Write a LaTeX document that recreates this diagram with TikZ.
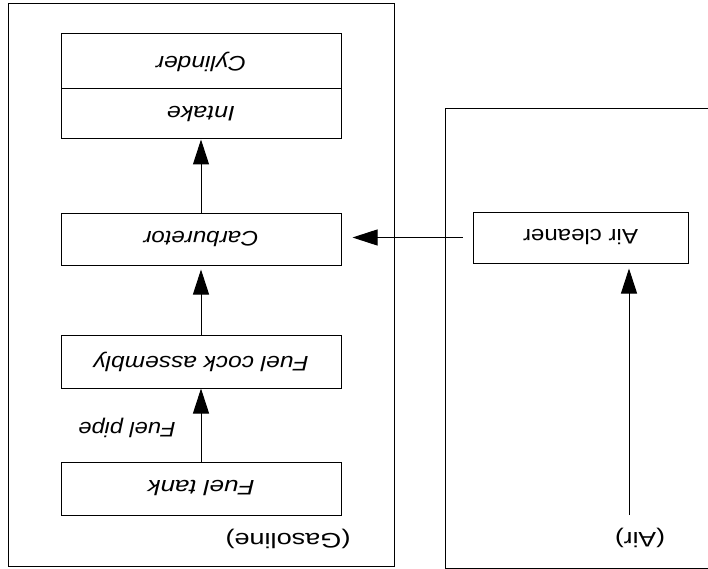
\documentclass[tikz,border=0pt]{standalone}
\usepackage{fontspec}
\setmainfont{Liberation Sans}
\usetikzlibrary{arrows.meta}
\newcommand{\flip}[2]{\rotatebox{180}{\resizebox{#1}{\height}{#2}}}
\begin{document}
\begin{tikzpicture}[x=1pt,y=-1pt,
  box/.style={draw,line width=1pt,inner sep=0pt,minimum width=280pt,minimum height=52pt,
    font=\fontsize{21}{25}\selectfont},
  lbl/.style={inner sep=0pt,font=\fontsize{21}{25}\selectfont},
  arr/.style={line width=1pt,-{Triangle[length=25pt,width=16pt]}}]
\useasboundingbox (0,0) rectangle (708,569);
% outer frames
\draw[line width=1pt] (8,4) rectangle (394,566);
\draw[line width=1pt] (712,109) -- (445,109) -- (445,568) -- (712,568);
% boxes
\node[box,minimum height=55pt] (cyl) at (201,61.5) {\flip{90pt}{\itshape Cylinder}};
\node[box,minimum height=50pt] (intake) at (201,114) {\flip{68pt}{\itshape Intake}};
\node[box] (carb) at (201,239) {\flip{115pt}{\itshape Carburetor}};
\node[box,minimum height=53pt] (cock) at (201,361.5) {\flip{215pt}{\itshape Fuel cock assembly}};
\node[box,minimum height=53pt] (tank) at (201,488.5) {\flip{107pt}{\itshape Fuel tank}};
\node[box,minimum width=215pt,minimum height=51pt] (aircl) at (580.5,237.5) {\flip{115pt}{Air cleaner}};
% labels
\node[lbl] (pipe) at (127,428) {\flip{97pt}{\itshape Fuel pipe}};
\node[lbl] (gas) at (288,539) {\flip{125pt}{(Gasoline)}};
\node[lbl] (air) at (640,538) {\flip{50pt}{(Air)}};
\coordinate (airsrc) at (629,515);
% connectors
\draw[arr] (tank.north) -- (cock.south);
\draw[arr,shorten >=4pt] (cock.north) -- (carb.south);
\draw[arr] (carb.north) -- (intake.south);
\draw[arr,shorten >=5pt] (airsrc) -- (airsrc |- aircl.south);
\draw[arr,shorten <=10pt,shorten >=11pt] (aircl.west) -- (aircl.west -| carb.east);
\end{tikzpicture}
\end{document}
